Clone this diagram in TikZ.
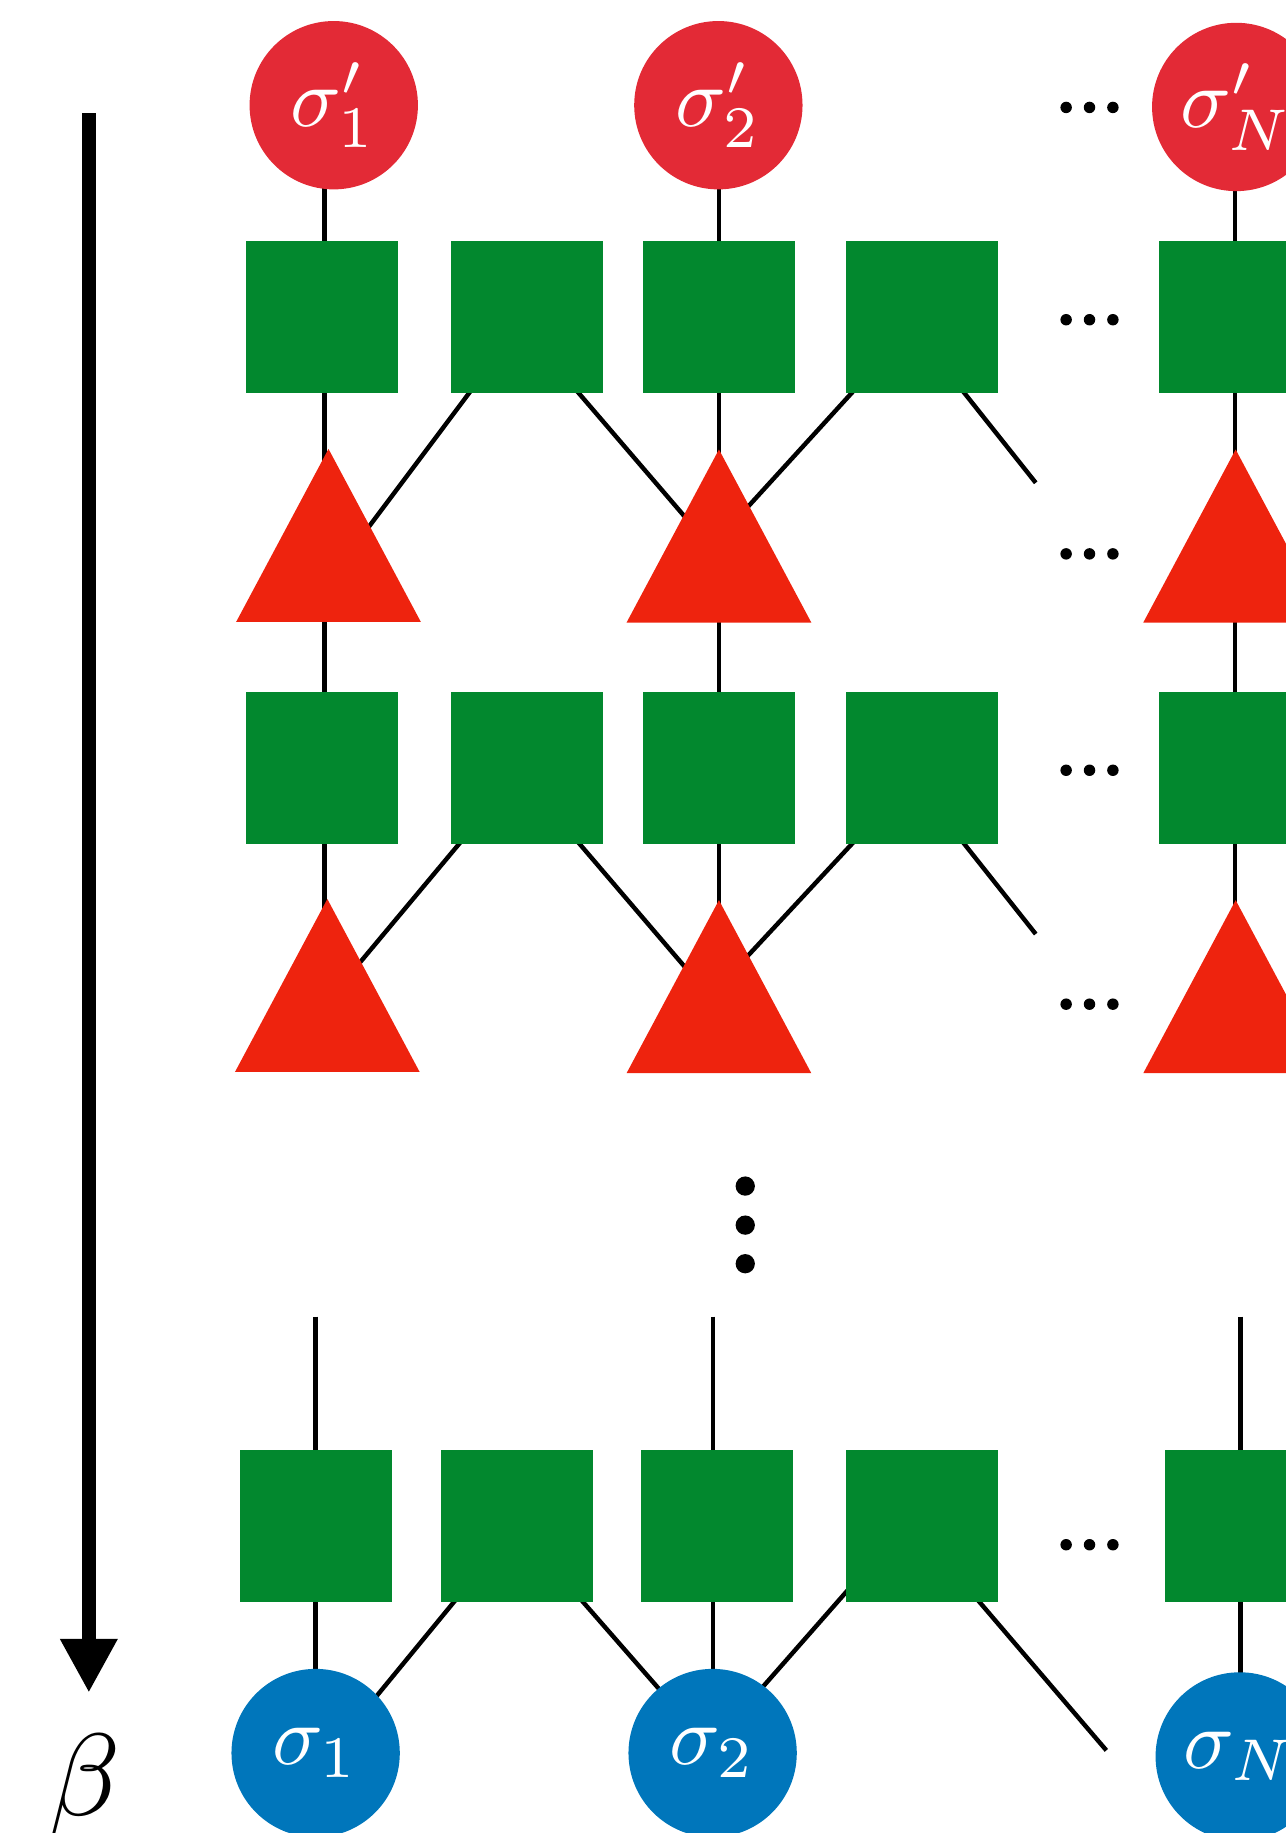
\RequirePackage{fix-cm}
\documentclass[tikz,border=0pt]{standalone}
\usetikzlibrary{arrows.meta,calc}

\definecolor{spinred}{RGB}{227,42,54}
\definecolor{trired}{RGB}{238,35,14}
\definecolor{gatecol}{RGB}{2,136,46}
\definecolor{spinblue}{RGB}{0,118,187}

\pgfdeclarelayer{wires}
\pgfsetlayers{wires,main}

\begin{document}
\begin{tikzpicture}[x=1pt,y=-1pt,
  wire/.style={line width=3.8pt, black},
  gate/.style={rectangle, fill=gatecol, minimum width=130pt, minimum height=130pt,
    inner sep=0pt, outer sep=0pt},
  spin/.style={circle, scale=7.2, minimum size=20pt, inner sep=0pt, outer sep=0pt,
    text=white},
  topspin/.style={spin, fill=spinred},
  botspin/.style={spin, fill=spinblue},
  tri/.style={fill=trired},
  hdot/.style={circle, fill=black, minimum size=9.8pt, inner sep=0pt},
  vdot/.style={circle, fill=black, minimum size=16.5pt, inner sep=0pt},
]
\useasboundingbox (0,0) rectangle (1100,1568);
\clip (0,0) rectangle (1100,1568);

% imaginary-time axis
\coordinate (btop) at (76,97);
\coordinate (bend) at (76,1448);
\draw[line width=11.4pt, -{Triangle[length=46pt,width=46pt]}] (btop) -- (bend);
\node[anchor=base, scale=10] (beta) at (72,1553) {$\beta$};

% output spins
\node[topspin] (s1p) at (285.5,90) {$\sigma'_1$};
\node[topspin] (s2p) at (614.5,90) {$\sigma'_2$};
\node[topspin] (sNp) at (1057.5,91.5) {$\sigma'_N$};

% first layer of gates
\node[gate] (a1) at (275.5,270.8) {};
\node[gate] (a2) at (450.7,270.8) {};
\node[gate] (a3) at (615.3,270.8) {};
\node[gate] (a4) at (788.7,270.8) {};
\node[gate] (a5) at (1056.3,270.8) {};

% second layer of gates
\node[gate] (b1) at (275.5,656.6) {};
\node[gate] (b2) at (450.7,656.6) {};
\node[gate] (b3) at (615.3,656.6) {};
\node[gate] (b4) at (788.7,656.6) {};
\node[gate] (b5) at (1056.3,656.6) {};

% last layer of gates
\node[gate] (c1) at (270.25,1305) {};
\node[gate] (c2) at (442,1305) {};
\node[gate] (c3) at (613.4,1305) {};
\node[gate] (c4) at (788.7,1305) {};
\node[gate] (c5) at (1061.5,1305) {};

% input spins
\node[botspin] (s1) at (270,1499.6) {$\sigma_1$};
\node[botspin] (s2) at (609.6,1499.6) {$\sigma_2$};
\node[botspin] (sN) at (1060.5,1502.5) {$\sigma_N$};

% triangle tensors (apex points)
\coordinate (tA1) at (281,384);
\coordinate (tA2) at (615,384.5);
\coordinate (tA3) at (1057,384.5);
\coordinate (tB1) at (280,769);
\coordinate (tB2) at (615,770);
\coordinate (tB3) at (1057,770);
\foreach \t in {tA1,tA2,tA3,tB1,tB2,tB3}
  \fill[tri] (\t) -- ++(79,148) -- ++(-158,0) -- cycle;
\foreach \t in {tA1,tA2,tA3,tB1,tB2,tB3}
  \coordinate (\t c) at ($(\t)+(0,90)$);

% leg columns
\coordinate (k1) at (277.5,0);
\coordinate (k2) at (615,0);
\coordinate (kN) at (1056.6,0);
\coordinate (u1) at (270,1126.3);
\coordinate (u2) at (609.7,1126.3);
\coordinate (uN) at (1061.3,1126.3);

% points where slanted legs enter the triangles and spins
\coordinate (tA1r) at (301,470);
\coordinate (tA2l) at (601.2,460);
\coordinate (tA2r) at (620.2,455);
\coordinate (tB1r) at (289.8,845);
\coordinate (tB2l) at (601.1,845);
\coordinate (tB2r) at (618.9,840);
\coordinate (s1r) at (298.2,1480);
\coordinate (s2l) at (585.8,1470);
\coordinate (s2r) at (628.8,1470);

% open legs
\coordinate (fA) at (886,413);
\coordinate (fB) at (886,799);
\coordinate (fC) at (946.4,1497.3);

\begin{pgfonlayer}{wires}
  % vertical legs, upper part
  \foreach \s/\k/\n in {s1p/k1/1, s2p/k2/3, sNp/kN/5}{
    \draw[wire] (\s -| \k) -- (a\n -| \k);
  }
  \draw[wire] (a1 -| k1) -- (tA1c -| k1);
  \draw[wire] (tA1c -| k1) -- (b1 -| k1);
  \draw[wire] (b1 -| k1) -- (tB1c -| k1);
  \draw[wire] (a3 -| k2) -- (tA2c -| k2);
  \draw[wire] (tA2c -| k2) -- (b3 -| k2);
  \draw[wire] (b3 -| k2) -- (tB2c -| k2);
  \draw[wire] (a5 -| kN) -- (tA3c -| kN);
  \draw[wire] (tA3c -| kN) -- (b5 -| kN);
  \draw[wire] (b5 -| kN) -- (tB3c -| kN);

  % slanted legs, first layer
  \draw[wire] ([xshift=-41.6pt,yshift=10pt]a2.south) -- (tA1r);
  \draw[wire] ([xshift=35.4pt,yshift=10pt]a2.south) -- (tA2l);
  \draw[wire] ([xshift=-50.7pt,yshift=10pt]a4.south) -- (tA2r);
  \draw[wire] ([xshift=28pt,yshift=10pt]a4.south) -- (fA);

  % slanted legs, second layer
  \draw[wire] ([xshift=-49.4pt,yshift=10pt]b2.south) -- (tB1r);
  \draw[wire] ([xshift=36.3pt,yshift=10pt]b2.south) -- (tB2l);
  \draw[wire] ([xshift=-50.4pt,yshift=10pt]b4.south) -- (tB2r);
  \draw[wire] ([xshift=28pt,yshift=10pt]b4.south) -- (fB);

  % last layer
  \draw[wire] (u1) -- (c1 -| u1);
  \draw[wire] (c1 -| u1) -- (s1 -| u1);
  \draw[wire] (u2) -- (c3 -| u2);
  \draw[wire] (c3 -| u2) -- (s2 -| u2);
  \draw[wire] (uN) -- (c5 -| uN);
  \draw[wire] (c5 -| uN) -- (sN -| uN);
  \draw[wire] ([xshift=-45.2pt,yshift=10pt]c2.south) -- (s1r);
  \draw[wire] ([xshift=47.7pt,yshift=10pt]c2.south) -- (s2l);
  \draw[wire] ([xshift=-50.1pt,yshift=25pt]c4.south) -- (s2r);
  \draw[wire] ([xshift=40.3pt,yshift=10pt]c4.south) -- (fC);
\end{pgfonlayer}

% ellipses
\foreach \y [count=\i] in {91.9,273.5,473.8,658.9,859,1321.4}
  \foreach \x [count=\j] in {912,932,952}
    \node[hdot] (h\i\j) at (\x,\y) {};
\foreach \y [count=\i] in {1014.6,1048,1081}
  \node[vdot] (v\i) at (637.5,\y) {};

\end{tikzpicture}
\end{document}
